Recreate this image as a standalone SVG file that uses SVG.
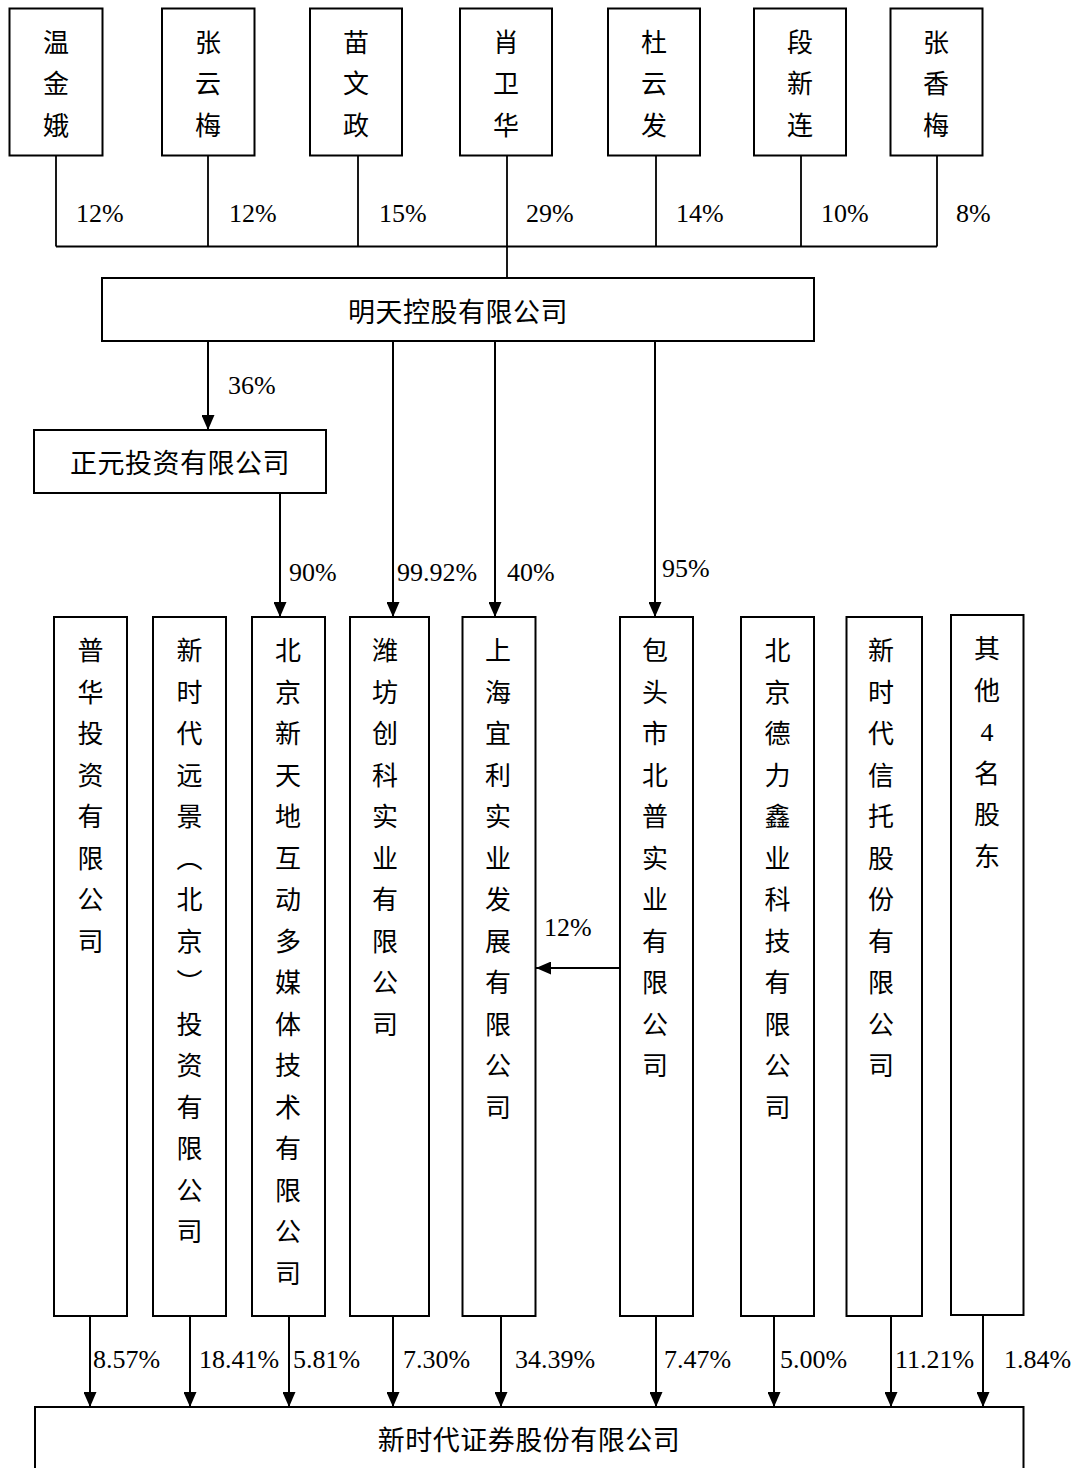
<svg xmlns="http://www.w3.org/2000/svg" width="1085" height="1468" viewBox="0 0 1085 1468">
<style>
  .box { fill: #fff; stroke: #000; stroke-width: 2; }
  .ln { fill: none; stroke: #000; stroke-width: 1.8; }
  .arr { fill: none; stroke: #000; stroke-width: 2; marker-end: url(#ah); }
  .cn { font-family: "Liberation Serif", "Noto Sans CJK SC", serif; font-size: 26px; fill: #000; text-anchor: middle; }
  .hn { font-family: "Liberation Serif", "Noto Sans CJK SC", serif; font-size: 27px; fill: #000; text-anchor: middle; letter-spacing: 0.5px; }
  .pc { font-family: "Liberation Serif", "Times New Roman", serif; font-size: 26px; fill: #000; }
</style>
<defs>
  <marker id="ah" markerUnits="userSpaceOnUse" markerWidth="15" markerHeight="13" viewBox="0 0 15 13" refX="15" refY="6.5" orient="auto">
    <path d="M0,0 L15,6.5 L0,13 z" fill="#000"/>
  </marker>
</defs>
<rect width="1085" height="1468" fill="#fff"/>

<g id="connectors">
  <!-- top shareholders -->
  <path class="ln" d="M56,155 V246.5 M208,155 V246.5 M358,155 V246.5 M507,155 V278 M656,155 V246.5 M801,155 V246.5 M937,155 V246.5 M56,246.5 H937"/>
  <!-- from 明天 -->
  <path class="arr" d="M208,341 V430"/>
  <path class="arr" d="M393,341 V617"/>
  <path class="arr" d="M495,341 V617"/>
  <path class="arr" d="M655,341 V617"/>
  <!-- from 正元 -->
  <path class="arr" d="M280,493 V617"/>
  <!-- 包头 -> 上海 -->
  <path class="arr" d="M620,968 H536"/>
  <!-- to 新时代证券 -->
  <path class="arr" d="M90,1316 V1407"/>
  <path class="arr" d="M190,1316 V1407"/>
  <path class="arr" d="M289,1316 V1407"/>
  <path class="arr" d="M393,1316 V1407"/>
  <path class="arr" d="M501,1316 V1407"/>
  <path class="arr" d="M656,1316 V1407"/>
  <path class="arr" d="M774,1316 V1407"/>
  <path class="arr" d="M891,1316 V1407"/>
  <path class="arr" d="M983,1315 V1407"/>
  <!-- labels -->
  <text class="pc" x="76" y="222">12%</text>
  <text class="pc" x="229" y="222">12%</text>
  <text class="pc" x="379" y="222">15%</text>
  <text class="pc" x="526" y="222">29%</text>
  <text class="pc" x="676" y="222">14%</text>
  <text class="pc" x="821" y="222">10%</text>
  <text class="pc" x="956" y="222">8%</text>
  <text class="pc" x="228" y="394">36%</text>
  <text class="pc" x="289" y="581">90%</text>
  <text class="pc" x="397" y="581">99.92%</text>
  <text class="pc" x="507" y="581">40%</text>
  <text class="pc" x="662" y="577">95%</text>
  <text class="pc" x="544" y="936">12%</text>
  <text class="pc" x="93" y="1368">8.57%</text>
  <text class="pc" x="199" y="1368">18.41%</text>
  <text class="pc" x="293" y="1368">5.81%</text>
  <text class="pc" x="403" y="1368">7.30%</text>
  <text class="pc" x="515" y="1368">34.39%</text>
  <text class="pc" x="664" y="1368">7.47%</text>
  <text class="pc" x="780" y="1368">5.00%</text>
  <text class="pc" x="895" y="1368">11.21%</text>
  <text class="pc" x="1004" y="1368">1.84%</text>
</g>

<g id="n-wen">
  <rect class="box" x="9.5" y="8.5" width="93" height="147"/>
  <text class="cn"><tspan x="56" y="52">温</tspan><tspan x="56" y="93">金</tspan><tspan x="56" y="135">娥</tspan></text>
</g>
<g id="n-zhangyun">
  <rect class="box" x="162" y="8.5" width="92.5" height="147"/>
  <text class="cn"><tspan x="208" y="52">张</tspan><tspan x="208" y="93">云</tspan><tspan x="208" y="135">梅</tspan></text>
</g>
<g id="n-miao">
  <rect class="box" x="310" y="8.5" width="92" height="147"/>
  <text class="cn"><tspan x="356" y="52">苗</tspan><tspan x="356" y="93">文</tspan><tspan x="356" y="135">政</tspan></text>
</g>
<g id="n-xiao">
  <rect class="box" x="460" y="8.5" width="92" height="147"/>
  <text class="cn"><tspan x="506" y="52">肖</tspan><tspan x="506" y="93">卫</tspan><tspan x="506" y="135">华</tspan></text>
</g>
<g id="n-du">
  <rect class="box" x="608" y="8.5" width="92" height="147"/>
  <text class="cn"><tspan x="654" y="52">杜</tspan><tspan x="654" y="93">云</tspan><tspan x="654" y="135">发</tspan></text>
</g>
<g id="n-duan">
  <rect class="box" x="754" y="8.5" width="92" height="147"/>
  <text class="cn"><tspan x="800" y="52">段</tspan><tspan x="800" y="93">新</tspan><tspan x="800" y="135">连</tspan></text>
</g>
<g id="n-zhangxiang">
  <rect class="box" x="890.5" y="8.5" width="92" height="147"/>
  <text class="cn"><tspan x="936" y="52">张</tspan><tspan x="936" y="93">香</tspan><tspan x="936" y="135">梅</tspan></text>
</g>

<g id="n-mingtian">
  <rect class="box" x="102" y="278" width="712" height="63"/>
  <text class="hn" x="458" y="322">明天控股有限公司</text>
</g>
<g id="n-zhengyuan">
  <rect class="box" x="34" y="430" width="292" height="63"/>
  <text class="hn" x="180" y="473">正元投资有限公司</text>
</g>

<g id="n-puhua">
  <rect class="box" x="54" y="617" width="73" height="699"/>
  <text class="cn"><tspan x="90.5" y="660">普</tspan><tspan x="90.5" y="701.5">华</tspan><tspan x="90.5" y="743">投</tspan><tspan x="90.5" y="784.5">资</tspan><tspan x="90.5" y="826">有</tspan><tspan x="90.5" y="867.5">限</tspan><tspan x="90.5" y="909">公</tspan><tspan x="90.5" y="950.5">司</tspan></text>
</g>
<g id="n-yuanjing">
  <rect class="box" x="153" y="617" width="73" height="699"/>
  <text class="cn"><tspan x="189.5" y="660">新</tspan><tspan x="189.5" y="701.5">时</tspan><tspan x="189.5" y="743">代</tspan><tspan x="189.5" y="784.5">远</tspan><tspan x="189.5" y="826">景</tspan><tspan x="189.5" y="867.5">︵</tspan><tspan x="189.5" y="909">北</tspan><tspan x="189.5" y="950.5">京</tspan><tspan x="189.5" y="992">︶</tspan><tspan x="189.5" y="1033.5">投</tspan><tspan x="189.5" y="1075">资</tspan><tspan x="189.5" y="1116.5">有</tspan><tspan x="189.5" y="1158">限</tspan><tspan x="189.5" y="1199.5">公</tspan><tspan x="189.5" y="1241">司</tspan></text>
</g>
<g id="n-xintiandi">
  <rect class="box" x="252" y="617" width="73" height="699"/>
  <text class="cn"><tspan x="288" y="660">北</tspan><tspan x="288" y="701.5">京</tspan><tspan x="288" y="743">新</tspan><tspan x="288" y="784.5">天</tspan><tspan x="288" y="826">地</tspan><tspan x="288" y="867.5">互</tspan><tspan x="288" y="909">动</tspan><tspan x="288" y="950.5">多</tspan><tspan x="288" y="992">媒</tspan><tspan x="288" y="1033.5">体</tspan><tspan x="288" y="1075">技</tspan><tspan x="288" y="1116.5">术</tspan><tspan x="288" y="1158">有</tspan><tspan x="288" y="1199.5">限</tspan><tspan x="288" y="1241">公</tspan><tspan x="288" y="1282.5">司</tspan></text>
</g>
<g id="n-weifang">
  <rect class="box" x="350" y="617" width="79" height="699"/>
  <text class="cn"><tspan x="385" y="660">潍</tspan><tspan x="385" y="701.5">坊</tspan><tspan x="385" y="743">创</tspan><tspan x="385" y="784.5">科</tspan><tspan x="385" y="826">实</tspan><tspan x="385" y="867.5">业</tspan><tspan x="385" y="909">有</tspan><tspan x="385" y="950.5">限</tspan><tspan x="385" y="992">公</tspan><tspan x="385" y="1033.5">司</tspan></text>
</g>
<g id="n-shanghai">
  <rect class="box" x="462.5" y="617" width="73" height="699"/>
  <text class="cn"><tspan x="498" y="660">上</tspan><tspan x="498" y="701.5">海</tspan><tspan x="498" y="743">宜</tspan><tspan x="498" y="784.5">利</tspan><tspan x="498" y="826">实</tspan><tspan x="498" y="867.5">业</tspan><tspan x="498" y="909">发</tspan><tspan x="498" y="950.5">展</tspan><tspan x="498" y="992">有</tspan><tspan x="498" y="1033.5">限</tspan><tspan x="498" y="1075">公</tspan><tspan x="498" y="1116.5">司</tspan></text>
</g>
<g id="n-baotou">
  <rect class="box" x="620" y="617" width="73" height="699"/>
  <text class="cn"><tspan x="655" y="660">包</tspan><tspan x="655" y="701.5">头</tspan><tspan x="655" y="743">市</tspan><tspan x="655" y="784.5">北</tspan><tspan x="655" y="826">普</tspan><tspan x="655" y="867.5">实</tspan><tspan x="655" y="909">业</tspan><tspan x="655" y="950.5">有</tspan><tspan x="655" y="992">限</tspan><tspan x="655" y="1033.5">公</tspan><tspan x="655" y="1075">司</tspan></text>
</g>
<g id="n-delixin">
  <rect class="box" x="741" y="617" width="73" height="699"/>
  <text class="cn"><tspan x="777.5" y="660">北</tspan><tspan x="777.5" y="701.5">京</tspan><tspan x="777.5" y="743">德</tspan><tspan x="777.5" y="784.5">力</tspan><tspan x="777.5" y="826">鑫</tspan><tspan x="777.5" y="867.5">业</tspan><tspan x="777.5" y="909">科</tspan><tspan x="777.5" y="950.5">技</tspan><tspan x="777.5" y="992">有</tspan><tspan x="777.5" y="1033.5">限</tspan><tspan x="777.5" y="1075">公</tspan><tspan x="777.5" y="1116.5">司</tspan></text>
</g>
<g id="n-xintuo">
  <rect class="box" x="846.5" y="617" width="75.5" height="699"/>
  <text class="cn"><tspan x="881" y="660">新</tspan><tspan x="881" y="701.5">时</tspan><tspan x="881" y="743">代</tspan><tspan x="881" y="784.5">信</tspan><tspan x="881" y="826">托</tspan><tspan x="881" y="867.5">股</tspan><tspan x="881" y="909">份</tspan><tspan x="881" y="950.5">有</tspan><tspan x="881" y="992">限</tspan><tspan x="881" y="1033.5">公</tspan><tspan x="881" y="1075">司</tspan></text>
</g>
<g id="n-others">
  <rect class="box" x="951" y="615" width="72.5" height="700"/>
  <text class="cn"><tspan x="987" y="658">其</tspan><tspan x="987" y="699.5">他</tspan><tspan x="987" y="741">4</tspan><tspan x="987" y="782.5">名</tspan><tspan x="987" y="824">股</tspan><tspan x="987" y="865.5">东</tspan></text>
</g>

<g id="n-xinshidai">
  <rect class="box" x="35" y="1407" width="988.5" height="80"/>
  <text class="hn" x="529" y="1450">新时代证券股份有限公司</text>
</g>
</svg>
